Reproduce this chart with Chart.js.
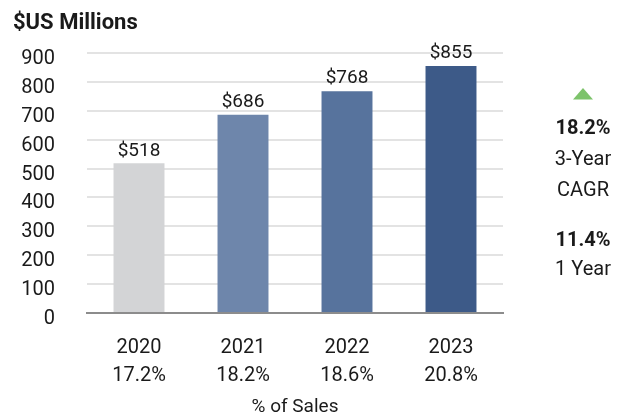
<!DOCTYPE html>
<html><head><meta charset="utf-8">
<script src="https://cdn.jsdelivr.net/npm/chart.js@4"></script>
<style>html,body{margin:0;padding:0;background:#fff}#wrap{width:625px;height:419px}</style>
</head><body><div id="wrap"><canvas id="c" width="625" height="419"></canvas></div>
<script>
const years = ["2020","2021","2022","2023"];
const pctOfSales = ["17.2%","18.2%","18.6%","20.8%"];
const values = [518, 686, 768, 855];
const valueLabels = ["$518","$686","$768","$855"];
const barColors = ["#d3d4d6","#6e86ab","#57739d","#3d5a88"];
const yTicks = [0,100,200,300,400,500,600,700,800,900];
const cagr3 = "18.2%";
const growth1 = "11.4%";

const FONT = "Roboto, 'Noto Sans', sans-serif";
const TXT = "#1a1a1a";

const extras = {
  id: 'extras',
  afterDraw(chart) {
    const ctx = chart.ctx;
    ctx.save();
    ctx.fillStyle = TXT;
    // title
    ctx.font = "bold 22px " + FONT;
    ctx.textAlign = "left"; ctx.textBaseline = "middle";
    ctx.fillText("$US Millions", 13, 23);
    // value labels
    ctx.font = "19px " + FONT;
    ctx.textAlign = "center"; ctx.textBaseline = "bottom";
    const meta = chart.getDatasetMeta(0);
    meta.data.forEach((bar, i) => {
      ctx.fillText(valueLabels[i], bar.x, bar.y - 3);
    });
    // right annotation
    const cx = 583;
    ctx.fillStyle = "#7dc36b";
    ctx.beginPath();
    ctx.moveTo(cx, 88); ctx.lineTo(cx + 10, 99.5); ctx.lineTo(cx - 10, 99.5); ctx.closePath();
    ctx.fill();
    ctx.fillStyle = TXT;
    ctx.textBaseline = "middle";
    ctx.font = "bold 20px " + FONT;
    ctx.fillText(cagr3, cx, 129);
    ctx.font = "20px " + FONT;
    ctx.fillText("3-Year", cx, 160);
    ctx.fillText("CAGR", cx, 191);
    ctx.font = "bold 20px " + FONT;
    ctx.fillText(growth1, cx, 241);
    ctx.font = "20px " + FONT;
    ctx.fillText("1 Year", cx, 270);
    ctx.restore();
  }
};

new Chart(document.getElementById('c'), {
  type: 'bar',
  data: {
    labels: years.map((y, i) => [y, pctOfSales[i]]),
    datasets: [{ data: values, backgroundColor: barColors, barPercentage: 0.98, categoryPercentage: 0.5 }]
  },
  options: {
    responsive: false,
    animation: false,
    layout: { padding: { top: 53, right: 122, left: 0, bottom: 0 } },
    plugins: { legend: { display: false }, tooltip: { enabled: false } },
    scales: {
      x: {
        afterFit(scale) { scale.height = 106; },
        grid: { display: false },
        border: { display: true, color: "#8c8c8c", width: 2 },
        ticks: { color: TXT, font: { family: FONT, size: 20, lineHeight: 1.4 }, padding: 13, autoSkip: false, maxRotation: 0, minRotation: 0 },
        title: { display: true, text: "% of Sales", color: TXT, font: { family: FONT, size: 19, lineHeight: 1.2 }, padding: { top: 0, bottom: 0 } }
      },
      y: {
        min: 0, max: 900,
        afterBuildTicks(scale) { scale.ticks = yTicks.map(v => ({ value: v })); },
        afterFit(scale) { scale.width = 87; },
        grid: { color: "#e3e3e3", lineWidth: 2, drawTicks: false },
        border: { display: false },
        ticks: { color: TXT, font: { family: FONT, size: 20 }, padding: 32, labelOffset: 6, autoSkip: false }
      }
    }
  },
  plugins: [extras]
});
</script></body></html>
